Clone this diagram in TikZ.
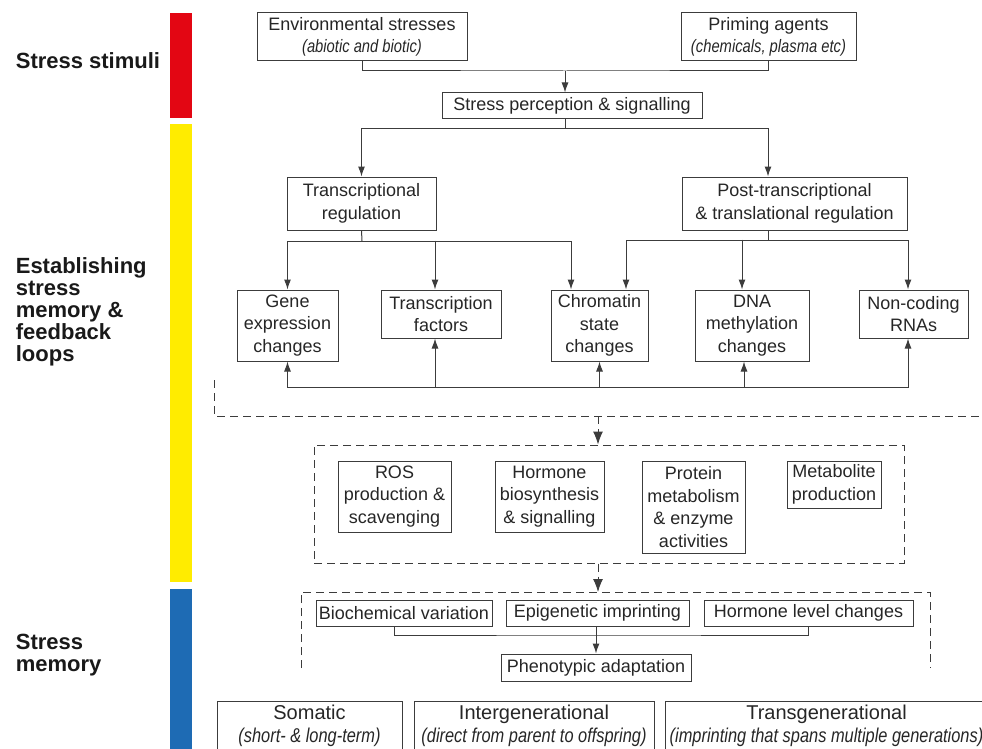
\documentclass[tikz,border=0pt]{standalone}
\usepackage{fontspec}
\setmainfont{Liberation Sans}
\newfontfamily\narrowit{Liberation Sans}[FakeStretch=0.82]
\usetikzlibrary{arrows.meta}
\definecolor{barred}{RGB}{227,6,19}
\definecolor{baryellow}{RGB}{255,236,0}
\definecolor{barblue}{RGB}{30,107,180}
\definecolor{linegray}{RGB}{60,60,60}
\newcommand{\subtxt}[1]{{\narrowit\itshape #1}}

\begin{document}
\begin{tikzpicture}[x=1pt, y=-1pt, line width=1pt, >={Latex[length=10pt,width=7pt]},
  box/.style={shape=rectangle, draw=linegray, align=center, inner sep=0pt, text=black!85, font=\fontsize{18}{22.5}\selectfont},
  bigbox/.style={box, font=\fontsize{20}{23}\selectfont},
  dline/.style={draw=linegray, dash pattern=on 8pt off 5pt},
  dbox/.style={shape=rectangle, dline},
  darrow/.style={dline, -{Latex[length=13pt,width=10pt]}},
  side/.style={anchor=west, align=left, text=black!90, font=\fontsize{22}{22}\selectfont\bfseries}]
\useasboundingbox (0,0) rectangle (982,749);

\fill[barred] (170,13) rectangle (192,118);
\fill[baryellow] (170,124) rectangle (192,582);
\fill[barblue] (170,589) rectangle (192,760);

\node [side] (L1) at (12,61) {Stress stimuli};
\node [side] (L2) at (12,312) {Establishing\\stress\\memory \&\\feedback\\loops};
\node [side] (L3) at (12,655) {Stress\\memory};

\node [box, minimum width=210pt, minimum height=48pt] (N1) at (362,37) {Environmental stresses\\\subtxt{(abiotic and biotic)}};
\node [box, minimum width=175pt, minimum height=48pt] (N2) at (768.5,37) {Priming agents\\\subtxt{(chemicals, plasma etc)}};
\node [box, minimum width=260pt, minimum height=26pt] (N3) at (572,106) {Stress perception \& signalling};
\node [box, minimum width=149pt, minimum height=53pt] (N4) at (361.5,203.5) {Transcriptional\\regulation};
\node [box, minimum width=225pt, minimum height=53pt] (N5) at (794.5,203.5) {Post-transcriptional\\\& translational regulation};

\node [box, minimum width=101pt, minimum height=71pt] (N6) at (287.5,325.5) {Gene\\expression\\changes};
\node [box, minimum width=120pt, minimum height=48pt] (N7) at (441,314) {Transcription\\factors};
\node [box, minimum width=97pt, minimum height=71pt] (N8) at (599.5,325.5) {Chromatin\\state\\changes};
\node [box, minimum width=114pt, minimum height=71pt] (N9) at (752,325.5) {DNA\\methylation\\changes};
\node [box, minimum width=109pt, minimum height=48pt] (N10) at (913.5,314) {Non-coding\\RNAs};

\node [dbox, minimum width=590pt, minimum height=118pt] (N11) at (609,504) {};
\node [box, minimum width=113pt, minimum height=71pt] (N12) at (394.5,496.5) {ROS\\production \&\\scavenging};
\node [box, minimum width=109pt, minimum height=71pt] (N13) at (549.5,496.5) {Hormone\\biosynthesis\\\& signalling};
\node [box, minimum width=103pt, minimum height=92pt] (N14) at (693.5,507) {Protein\\metabolism\\\& enzyme\\activities};
\node [box, minimum width=94pt, minimum height=47pt] (N15) at (834,484.5) {Metabolite\\production};

\node [box, minimum width=176pt, minimum height=26pt] (N16) at (404,613) {Biochemical variation};
\node [box, minimum width=183pt, minimum height=26pt] (N17) at (597.5,613) {Epigenetic imprinting};
\node [box, minimum width=209pt, minimum height=26pt] (N18) at (808.5,613) {Hormone level changes};
\node [box, minimum width=190pt, minimum height=27pt] (N19) at (596,667.5) {Phenotypic adaptation};

\node [bigbox, minimum width=185pt, minimum height=50pt] (N20) at (309.5,726) {Somatic\\\subtxt{(short- \& long-term)}};
\node [bigbox, minimum width=240pt, minimum height=50pt] (N21) at (534,726) {Intergenerational\\\subtxt{(direct from parent to offspring)}};
\node [bigbox, minimum width=323pt, minimum height=50pt] (N22) at (826.5,726) {Transgenerational\\\subtxt{(imprinting that spans multiple generations)}};

\coordinate (J1) at (565,71);
\coordinate (J2) at (565,129);
\coordinate (J4) at (362,241);
\coordinate (J5) at (768,240);
\coordinate (J6) at (596,635);
\draw[linegray] (N1.south) |- (J1) -| (N2.south);
\draw[linegray, ->] (J1) -- (J1 |- N3.north);
\draw[linegray] (J2 |- N3.south) -- (J2);
\draw[linegray, ->] (J2) -| (N4.north);
\draw[linegray, ->] (J2) -| ([xshift=-26.5pt]N5.north);

\draw[linegray] (N4.south) -- (J4);
\draw[linegray, ->] (J4) -| (N6.north);
\draw[linegray, ->] (J4) -| ([xshift=-28.5pt]N8.north);
\draw[linegray, ->] ([xshift=-6pt]N7.north) ++(0,-49) -- ([xshift=-6pt]N7.north);
\draw[linegray] ([xshift=-26.5pt]N5.south) -- (J5);
\draw[linegray, ->] (J5) -| ([xshift=26.5pt]N8.north);
\draw[linegray, ->] (J5) -| ([xshift=-5.5pt]N10.north);
\draw[linegray, ->] ([xshift=-10pt]N9.north) ++(0,-50) -- ([xshift=-10pt]N9.north);

\coordinate (FB1) at (288,387);
\coordinate (FB2) at (908,387);
\draw[linegray] (FB1) -- (FB2);
\foreach \n/\s/\h in {N6/0/26, N7/-6/49, N8/0/26, N9/-8/26, N10/-5.5/49}
  \draw[linegray, ->] ([xshift=\s pt]\n.south) ++(0,\h) -- ([xshift=\s pt]\n.south);

\coordinate (D1) at (214,380);
\coordinate (D2) at (990,416);
\coordinate (A1) at (598,416);
\draw[dline] (D1) |- (D2);
\draw[darrow] (A1) -- (A1 |- N11.north);

\coordinate (B2a) at (301,668);
\coordinate (B2b) at (930,592);
\draw[dline] (B2a) |- (B2b) -- (B2b |- B2a);
\draw[darrow] (A1 |- N11.south) -- (A1 |- B2b);

\draw[linegray] ([xshift=-10pt]N16.south) |- (J6) -| (N18.south);
\draw[linegray, ->] (N17.south -| N19.north) -- (N19.north);
\end{tikzpicture}
\end{document}
